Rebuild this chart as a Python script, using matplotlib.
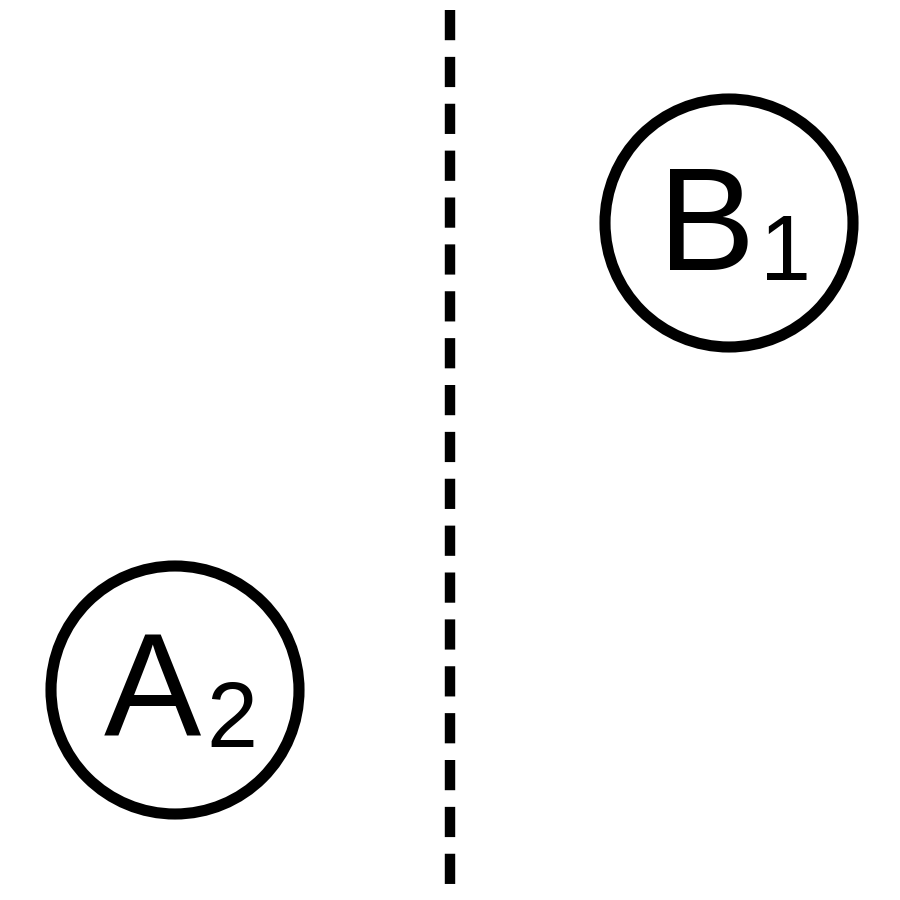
import matplotlib
matplotlib.use("Agg")
import matplotlib.pyplot as plt
from matplotlib.patches import Circle

labels = ["B", "A"]
subs = ["1", "2"]
centers = [(729, 223), (175, 690)]
radius = 124
divider_x = 450
divider_span = (10, 897)

fig = plt.figure(figsize=(9, 9), dpi=100)
ax = fig.add_axes([0, 0, 1, 1])
ax.set_xlim(0, 900)
ax.set_ylim(900, 0)
ax.axis("off")

ax.plot([divider_x, divider_x], divider_span, color="black", lw=7.5,
        linestyle=(0, (2.9, 1.6)), solid_capstyle="butt", dash_capstyle="butt")

for (cx, cy), lab, s in zip(centers, labels, subs):
    ax.add_patch(Circle((cx, cy), radius, fill=False, lw=8, ec="black"))
    ax.text(cx + 26, cy + 47, lab, fontsize=105, family="Liberation Sans",
            ha="right", va="baseline")
    ax.text(cx + 31, cy + 57, s, fontsize=66, family="Liberation Sans",
            ha="left", va="baseline")

fig.savefig("out.png", dpi=100)
